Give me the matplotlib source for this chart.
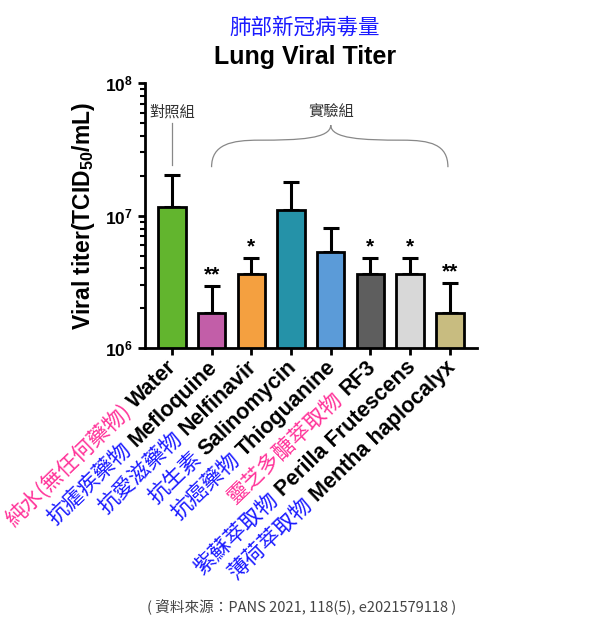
import matplotlib
matplotlib.use("Agg")
import matplotlib.pyplot as plt
import numpy as np
from matplotlib.path import Path
from matplotlib.patches import PathPatch
import matplotlib.transforms as mtransforms

plt.rcParams['font.family'] = ['Liberation Sans', 'Noto Sans CJK TC', 'DejaVu Sans']
plt.rcParams['mathtext.fontset'] = 'custom'
plt.rcParams['mathtext.rm'] = 'Liberation Sans:bold'
plt.rcParams['mathtext.bf'] = 'Liberation Sans:bold'

# -----------------------------
# Data
# -----------------------------
drugs_en = ["Water", "Mefloquine", "Nelfinavir", "Salinomycin", "Thioguanine",
            "RF3", "Perilla Frutescens", "Mentha haplocalyx"]
drugs_zh = ["純水(無任何藥物)", "抗瘧疾藥物", "抗愛滋藥物", "抗生素", "抗癌藥物",
            "靈芝多醣萃取物", "紫蘇萃取物", "薄荷萃取物"]
zh_colors = ["#ff3399", "#1a1aff", "#1a1aff", "#1a1aff", "#1a1aff",
             "#ff3399", "#1a1aff", "#1a1aff"]
titer = [1.17e7, 1.83e6, 3.66e6, 1.11e7, 5.3e6, 3.66e6, 3.66e6, 1.83e6]
titer_upper = [2.03e7, 2.93e6, 4.8e6, 1.8e7, 8.1e6, 4.8e6, 4.8e6, 3.1e6]
signif = ["", "**", "*", "", "", "*", "*", "**"]
bar_colors = ["#62b52e", "#c25ea8", "#f4a040", "#2592a8", "#5b9bd8",
              "#5e5e5e", "#d8d8d8", "#c8bc80"]

titer = np.array(titer)
err_up = np.array(titer_upper) - titer
x = np.arange(len(drugs_en))

# -----------------------------
# Plot
# -----------------------------
fig = plt.figure(figsize=(6.06, 6.4), dpi=100)
ax = fig.add_axes([0.239, 0.456, 0.548, 0.414])

ax.bar(x, titer, width=0.69, color=bar_colors, edgecolor="black", linewidth=2,
       bottom=0, zorder=2)
ax.errorbar(x, titer, yerr=[np.zeros_like(err_up), err_up], fmt="none",
            ecolor="black", elinewidth=2.2, capsize=5.5, capthick=2.2, zorder=1)

ax.set_yscale("log")
ax.set_ylim(1e6, 1e8)
ax.set_xlim(-0.68, 7.68)

ax.set_yticks([1e6, 1e7, 1e8])
ax.set_yticklabels([r"$\mathbf{10^{6}}$", r"$\mathbf{10^{7}}$", r"$\mathbf{10^{8}}$"],
                   fontsize=12.5)
ax.set_xticks(x)
ax.set_xticklabels([])
for s in ["top", "right"]:
    ax.spines[s].set_visible(False)
for s in ["left", "bottom"]:
    ax.spines[s].set_linewidth(2)
ax.tick_params(axis="both", which="major", width=2, length=5, direction="out")
ax.tick_params(axis="y", which="minor", width=1.5, length=3.5)

ax.set_ylabel(r"Viral titer(TCID$_{50}$/mL)", fontsize=16.5, fontweight="bold",
              labelpad=6)

# significance stars
for i, s in enumerate(signif):
    if s:
        ax.annotate(s, xy=(x[i], titer_upper[i]), xytext=(0, 2),
                    textcoords="offset pixels", ha="center", va="bottom",
                    fontsize=15, fontweight="bold")

# control / experimental group notes
trans = mtransforms.blended_transform_factory(ax.transData, ax.transAxes)
ax.text(0, 0.89, "對照組", transform=trans, ha="center", va="center",
        fontsize=11, color="#333333", family="Noto Sans CJK TC")
ax.plot([0, 0], [0.69, 0.85], transform=trans, color="#888888", lw=0.9,
        clip_on=False)
ax.text(4, 0.89, "實驗組", transform=trans, ha="center", va="center",
        fontsize=11, color="#333333", family="Noto Sans CJK TC")
verts = [(1.0, 0.683), (1.0, 0.77), (1.5, 0.785), (2.2, 0.785),
         (3.2, 0.785), (4.0, 0.79), (4.0, 0.842),
         (4.0, 0.79), (4.8, 0.785), (5.8, 0.785),
         (6.5, 0.785), (6.95, 0.77), (6.95, 0.683)]
codes = [Path.MOVETO, Path.CURVE4, Path.CURVE4, Path.CURVE4,
         Path.CURVE4, Path.CURVE4, Path.CURVE4,
         Path.CURVE4, Path.CURVE4, Path.CURVE4,
         Path.CURVE4, Path.CURVE4, Path.CURVE4]
ax.add_patch(PathPatch(Path(verts, codes), transform=trans, fill=False,
                       edgecolor="#888888", lw=0.9, clip_on=False))

# two-colour rotated category labels
renderer = fig.canvas.get_renderer()
rot = 44
ang = np.deg2rad(rot)
for i in range(len(x)):
    t = fig.text(0, 0, drugs_en[i], fontsize=15.5, fontweight="bold")
    w = t.get_window_extent(renderer).width
    t.remove()
    ox, oy = 6, -20
    ax.annotate(drugs_en[i], xy=(x[i], 0), xycoords=trans,
                xytext=(ox, oy), textcoords="offset pixels",
                rotation=rot, rotation_mode="anchor", ha="right", va="baseline",
                fontsize=15.5, fontweight="bold", color="black")
    d = w + 5
    ax.annotate(drugs_zh[i], xy=(x[i], 0), xycoords=trans,
                xytext=(ox - d * np.cos(ang), oy - d * np.sin(ang)),
                textcoords="offset pixels",
                rotation=rot, rotation_mode="anchor", ha="right", va="baseline",
                fontsize=15.5, color=zh_colors[i], family="Noto Sans CJK TC")

# titles
fig.text(0.503, 0.957, "肺部新冠病毒量", ha="center", va="center", fontsize=15.5,
         color="#1a1aff", family="Noto Sans CJK TC")
fig.text(0.503, 0.911, "Lung Viral Titer", ha="center", va="center",
         fontsize=18, fontweight="bold")
fig.text(0.497, 0.051, "( 資料來源：PANS 2021, 118(5), e2021579118 )",
         ha="center", va="center", fontsize=10.5, color="#444444",
         family="Noto Sans CJK TC")

fig.savefig("out.png", dpi=100)
